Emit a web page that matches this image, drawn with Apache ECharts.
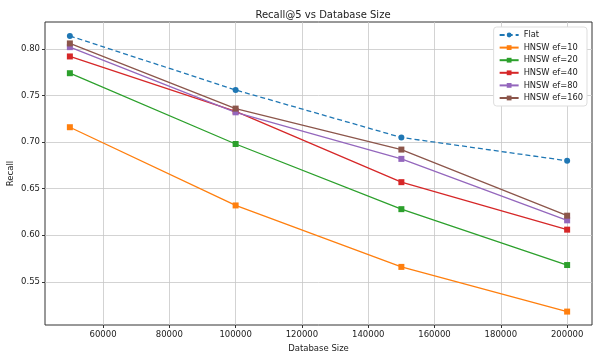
<!DOCTYPE html>
<html><head><meta charset="utf-8">
<script src="https://cdn.jsdelivr.net/npm/echarts@6/dist/echarts.min.js"></script>
<style>html,body{margin:0;padding:0;background:#fff}#c{width:600px;height:360px}</style>
</head><body><div id="c"></div>
<script>
const sizes = [50000, 100000, 150000, 200000];
const flat = [0.814, 0.756, 0.705, 0.680];
const ef10 = [0.716, 0.632, 0.566, 0.518];
const ef20 = [0.774, 0.698, 0.628, 0.568];
const ef40 = [0.792, 0.733, 0.657, 0.606];
const ef80 = [0.802, 0.732, 0.682, 0.616];
const ef160 = [0.806, 0.736, 0.692, 0.621];
const xTicks = [60000, 80000, 100000, 120000, 140000, 160000, 180000, 200000];
const yTicks = [0.55, 0.60, 0.65, 0.70, 0.75, 0.80];

const names = ['Flat','HNSW ef=10','HNSW ef=20','HNSW ef=40','HNSW ef=80','HNSW ef=160'];
const vals = [flat, ef10, ef20, ef40, ef80, ef160];
const colors = ['#1f77b4','#ff7f0e','#2ca02c','#d62728','#9467bd','#8c564b'];

const series = vals.map((v, i) => ({
  name: names[i],
  type: 'line',
  data: sizes.map((s, j) => [s, v[j]]),
  symbol: i === 0 ? 'circle' : 'rect',
  symbolSize: 6,
  lineStyle: { width: 1.3, color: colors[i], type: i === 0 ? [5, 3] : 'solid' },
  itemStyle: { color: colors[i] },
  emphasis: { disabled: true },
  animation: false
}));

const chart = echarts.init(document.getElementById('c'));
chart.setOption({
  animation: false,
  color: colors,
  title: { text: 'Recall@5 vs Database Size', left: 318, top: 5, textAlign: 'center',
    textStyle: { fontFamily: 'DejaVu Sans', fontSize: 10, fontWeight: 'normal', color: '#222' } },
  grid: { left: 45, right: 8, top: 22, bottom: 35, show: true, borderColor: '#333', borderWidth: 1,
    containLabel: false, outerBoundsMode: 'none' },
  legend: {
    right: 13, top: 27, orient: 'vertical', itemGap: 4.6, itemWidth: 19, itemHeight: 6,
    backgroundColor: '#fff', borderColor: '#ddd', borderWidth: 1, borderRadius: 3, padding: [4, 4, 4, 5],
    textStyle: { fontFamily: 'DejaVu Sans', fontSize: 8.3, color: '#222' },
    data: names
  },
  xAxis: {
    type: 'value', min: 42500, max: 207500,
    name: 'Database Size', nameLocation: 'middle', nameGap: 18,
    nameTextStyle: { fontFamily: 'DejaVu Sans', fontSize: 8.5, color: '#222' },
    axisLine: { show: false },
    axisTick: { show: true, customValues: xTicks, length: 3, lineStyle: { color: '#333' } },
    axisLabel: { customValues: xTicks, fontFamily: 'DejaVu Sans', fontSize: 8.5, color: '#222', margin: 5,
      formatter: v => String(v) },
    splitLine: { show: true, customValues: xTicks, lineStyle: { color: '#c8c8c8', width: 0.8 } }
  },
  yAxis: {
    type: 'value', min: 0.5036, max: 0.8290,
    name: 'Recall', nameLocation: 'middle', nameGap: 30, nameRotate: 90, nameMoveOverlap: false,
    nameTextStyle: { fontFamily: 'DejaVu Sans', fontSize: 8.5, color: '#222' },
    axisLine: { show: false },
    axisTick: { show: true, customValues: yTicks, length: 3, lineStyle: { color: '#333' } },
    axisLabel: { customValues: yTicks, fontFamily: 'DejaVu Sans', fontSize: 8.5, color: '#222', margin: 5,
      formatter: v => v.toFixed(2) },
    splitLine: { show: true, customValues: yTicks, lineStyle: { color: '#c8c8c8', width: 0.8 } }
  },
  series: series
});
</script></body></html>
